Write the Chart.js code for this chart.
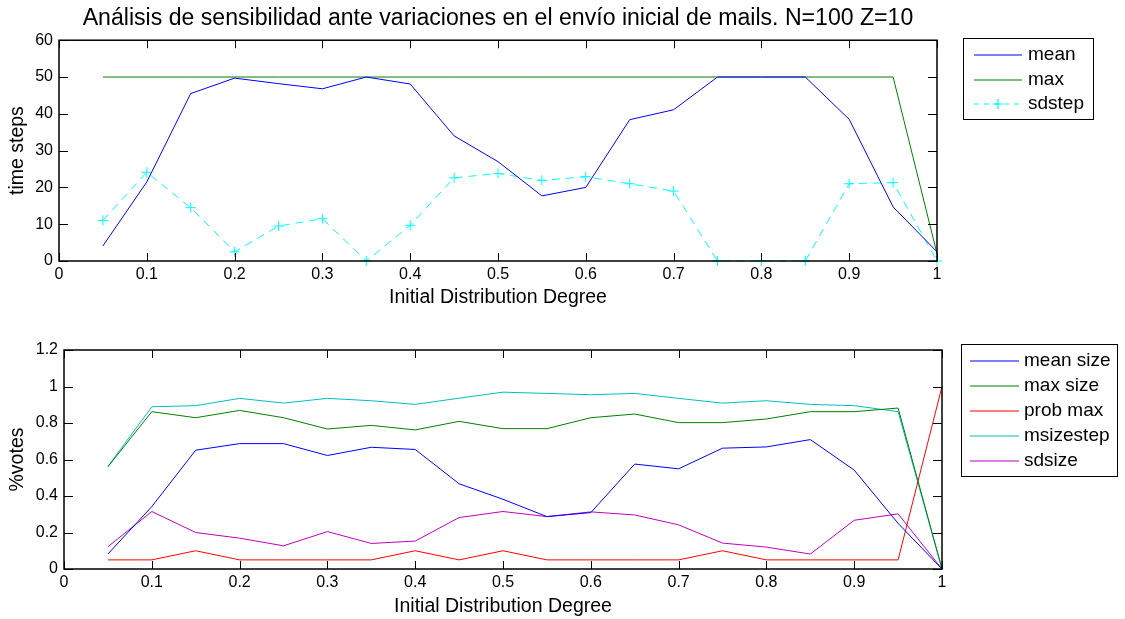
<!DOCTYPE html>
<html>
<head>
<meta charset="utf-8">
<script src="https://cdn.jsdelivr.net/npm/chart.js@4"></script>
<style>
  body { margin: 0; background: #fff; }
  #wrap { position: relative; width: 1125px; height: 619px; }
  canvas { position: absolute; left: 0; }
  #top { top: 0; }
  #bottom { top: 310px; }
</style>
</head>
<body>
<div id="wrap">
  <canvas id="top" width="1125" height="310"></canvas>
  <canvas id="bottom" width="1125" height="309"></canvas>
</div>
<script>
// initial distribution degree
const degree = [0.05, 0.10, 0.15, 0.20, 0.25, 0.30, 0.35, 0.40, 0.45, 0.50,
                0.55, 0.60, 0.65, 0.70, 0.75, 0.80, 0.85, 0.90, 0.95, 1.00];

// time steps
const meanSteps = [4.1, 21.5, 45.5, 49.7, 48.2, 46.8, 50, 48.1, 34, 27,
                   17.7, 20, 38.4, 41.1, 50, 50, 50, 38.5, 14.7, 2.5];
const maxSteps = [50, 50, 50, 50, 50, 50, 50, 50, 50, 50,
                  50, 50, 50, 50, 50, 50, 50, 50, 50, 2];
const sdStep = [11, 24.1, 14.5, 2.5, 9.5, 11.5, 0, 9.7, 22.6, 23.8,
                21.9, 22.9, 21, 19, 0, 0, 0, 21, 21.3, 0];

// %votes
const meanSize = [0.082, 0.342, 0.651, 0.687, 0.687, 0.622, 0.667, 0.655, 0.467, 0.382,
                  0.287, 0.309, 0.575, 0.549, 0.662, 0.669, 0.709, 0.542, 0.25, 0];
const maxSize = [0.56, 0.862, 0.829, 0.869, 0.829, 0.767, 0.787, 0.762, 0.809, 0.769,
                 0.769, 0.829, 0.849, 0.802, 0.802, 0.822, 0.862, 0.862, 0.882, 0];
const probMax = [0.05, 0.05, 0.1, 0.05, 0.05, 0.05, 0.05, 0.1, 0.05, 0.1,
                 0.05, 0.05, 0.05, 0.05, 0.1, 0.05, 0.05, 0.05, 0.05, 1.0];
const mSizeStep = [0.562, 0.889, 0.895, 0.935, 0.909, 0.935, 0.922, 0.902, 0.936, 0.969,
                   0.962, 0.955, 0.962, 0.935, 0.909, 0.922, 0.902, 0.895, 0.862, 0];
const sdSize = [0.122, 0.315, 0.2, 0.169, 0.127, 0.205, 0.14, 0.153, 0.282, 0.315,
                0.287, 0.313, 0.296, 0.242, 0.142, 0.12, 0.082, 0.267, 0.302, 0];

const xTicks = { min: 0, max: 1, step: 0.1 };
const topTicks = { min: 0, max: 60, step: 10 };
const bottomTicks = { min: 0, max: 1.2, step: 0.2 };

const FONT = "'Liberation Sans', Arial, Helvetica, sans-serif";
Chart.defaults.font.family = FONT;
Chart.defaults.color = "#000";

const pts = (ys) => ys.map((y, i) => ({ x: degree[i], y: y }));
const fmt = (v) => String(+v.toFixed(2));

function line(label, ys, color, extra) {
  return Object.assign({
    label: label,
    data: pts(ys),
    borderColor: color,
    backgroundColor: color,
    borderWidth: 1,
    pointRadius: 0,
    tension: 0,
    clip: false,
  }, extra || {});
}

// box round the axes with inward tick marks on all sides
const axesBox = {
  id: "axesBox",
  afterDatasetsDraw(chart) {
    const { ctx, chartArea: a, scales: { x, y } } = chart;
    ctx.save();
    ctx.strokeStyle = "#000";
    ctx.lineWidth = 1;
    x.ticks.forEach((t) => {
      const px = Math.round(x.getPixelForValue(t.value)) + 0.5;
      ctx.beginPath();
      ctx.moveTo(px, a.top); ctx.lineTo(px, a.top + 8);
      ctx.moveTo(px, a.bottom); ctx.lineTo(px, a.bottom - 8);
      ctx.stroke();
    });
    y.ticks.forEach((t) => {
      const py = Math.round(y.getPixelForValue(t.value)) + 0.5;
      ctx.beginPath();
      ctx.moveTo(a.left, py); ctx.lineTo(a.left + 9, py);
      ctx.moveTo(a.right, py); ctx.lineTo(a.right - 9, py);
      ctx.stroke();
    });
    ctx.lineWidth = 1.5;
    ctx.strokeRect(a.left, a.top, a.right - a.left, a.bottom - a.top);
    ctx.restore();
  },
};

// legend in a framed box to the right of the axes
const boxLegend = {
  id: "boxLegend",
  afterDraw(chart, args, o) {
    const ctx = chart.ctx;
    ctx.save();
    ctx.fillStyle = "#fff";
    ctx.fillRect(o.x, o.y, o.w, o.h);
    ctx.strokeStyle = "#000";
    ctx.lineWidth = 1;
    ctx.strokeRect(o.x + 0.5, o.y + 0.5, o.w, o.h);
    ctx.font = "19px " + FONT;
    ctx.textBaseline = "middle";
    chart.data.datasets.forEach((ds, i) => {
      const ry = Math.round(o.rowY + i * o.rowStep);
      ctx.strokeStyle = ds.borderColor;
      ctx.lineWidth = 1.2;
      ctx.setLineDash(ds.borderDash ? [5, 5] : []);
      ctx.beginPath();
      ctx.moveTo(o.lineX, ry);
      ctx.lineTo(o.lineX + o.lineW, ry);
      ctx.stroke();
      ctx.setLineDash([]);
      if (ds.pointStyle === "cross") {
        const cx = o.lineX + o.lineW / 2;
        ctx.beginPath();
        ctx.moveTo(cx - 5, ry); ctx.lineTo(cx + 5, ry);
        ctx.moveTo(cx, ry - 5); ctx.lineTo(cx, ry + 5);
        ctx.stroke();
      }
      ctx.fillStyle = "#000";
      ctx.fillText(ds.label, o.textX, ry);
    });
    ctx.restore();
  },
};

function scales(yTicks, yTitle, yWidth, xHeight) {
  return {
    x: {
      type: "linear",
      min: xTicks.min,
      max: xTicks.max,
      grid: { display: false, drawTicks: false },
      border: { display: false },
      ticks: { stepSize: xTicks.step, padding: 4, maxRotation: 0, font: { size: 16 }, callback: fmt },
      title: { display: true, text: "Initial Distribution Degree", font: { size: 19.5 }, padding: { top: 0, bottom: 1 } },
      afterFit: (s) => { s.height = xHeight; },
    },
    y: {
      min: yTicks.min,
      max: yTicks.max,
      grid: { display: false, drawTicks: false },
      border: { display: false },
      ticks: { stepSize: yTicks.step, padding: 6, font: { size: 16 }, callback: fmt },
      title: { display: true, text: yTitle, font: { size: 19.5 }, padding: { top: 6, bottom: 0 } },
      afterFit: (s) => { s.width = yWidth; },
    },
  };
}

new Chart(document.getElementById("top"), {
  type: "line",
  data: {
    datasets: [
      line("mean", meanSteps, "#0000ff"),
      line("max", maxSteps, "#008000"),
      line("sdstep", sdStep, "#00ffff", { borderDash: [8, 6], pointStyle: "cross", pointRadius: 5, pointBorderWidth: 1 }),
    ],
  },
  options: {
    responsive: false,
    animation: false,
    devicePixelRatio: 1,
    layout: { padding: { left: 0, right: 188, top: 0, bottom: 0 } },
    scales: scales(topTicks, "time steps", 59, 49),
    plugins: {
      legend: { display: false },
      tooltip: { enabled: false },
      title: {
        display: true,
        fullSize: false,
        text: "Análisis de sensibilidad ante variaciones en el envío inicial de mails. N=100 Z=10",
        font: { size: 23.1, weight: "normal" },
        padding: { top: 5, bottom: 7.5 },
      },
      boxLegend: { x: 963, y: 38, w: 130, h: 81, lineX: 974, lineW: 48, textX: 1028, rowY: 55, rowStep: 24.5 },
    },
  },
  plugins: [axesBox, boxLegend],
});

new Chart(document.getElementById("bottom"), {
  type: "line",
  data: {
    datasets: [
      line("mean size", meanSize, "#0000ff"),
      line("max size", maxSize, "#008000"),
      line("prob max", probMax, "#ff0000"),
      line("msizestep", mSizeStep, "#00bfbf"),
      line("sdsize", sdSize, "#bf00bf"),
    ],
  },
  options: {
    responsive: false,
    animation: false,
    devicePixelRatio: 1,
    layout: { padding: { left: 0, right: 183, top: 40, bottom: 0 } },
    scales: scales(bottomTicks, "%votes", 64, 50),
    plugins: {
      legend: { display: false },
      tooltip: { enabled: false },
      boxLegend: { x: 961, y: 34, w: 156, h: 132, lineX: 970, lineW: 49, textX: 1024, rowY: 51, rowStep: 25 },
    },
  },
  plugins: [axesBox, boxLegend],
});
</script>
</body>
</html>
